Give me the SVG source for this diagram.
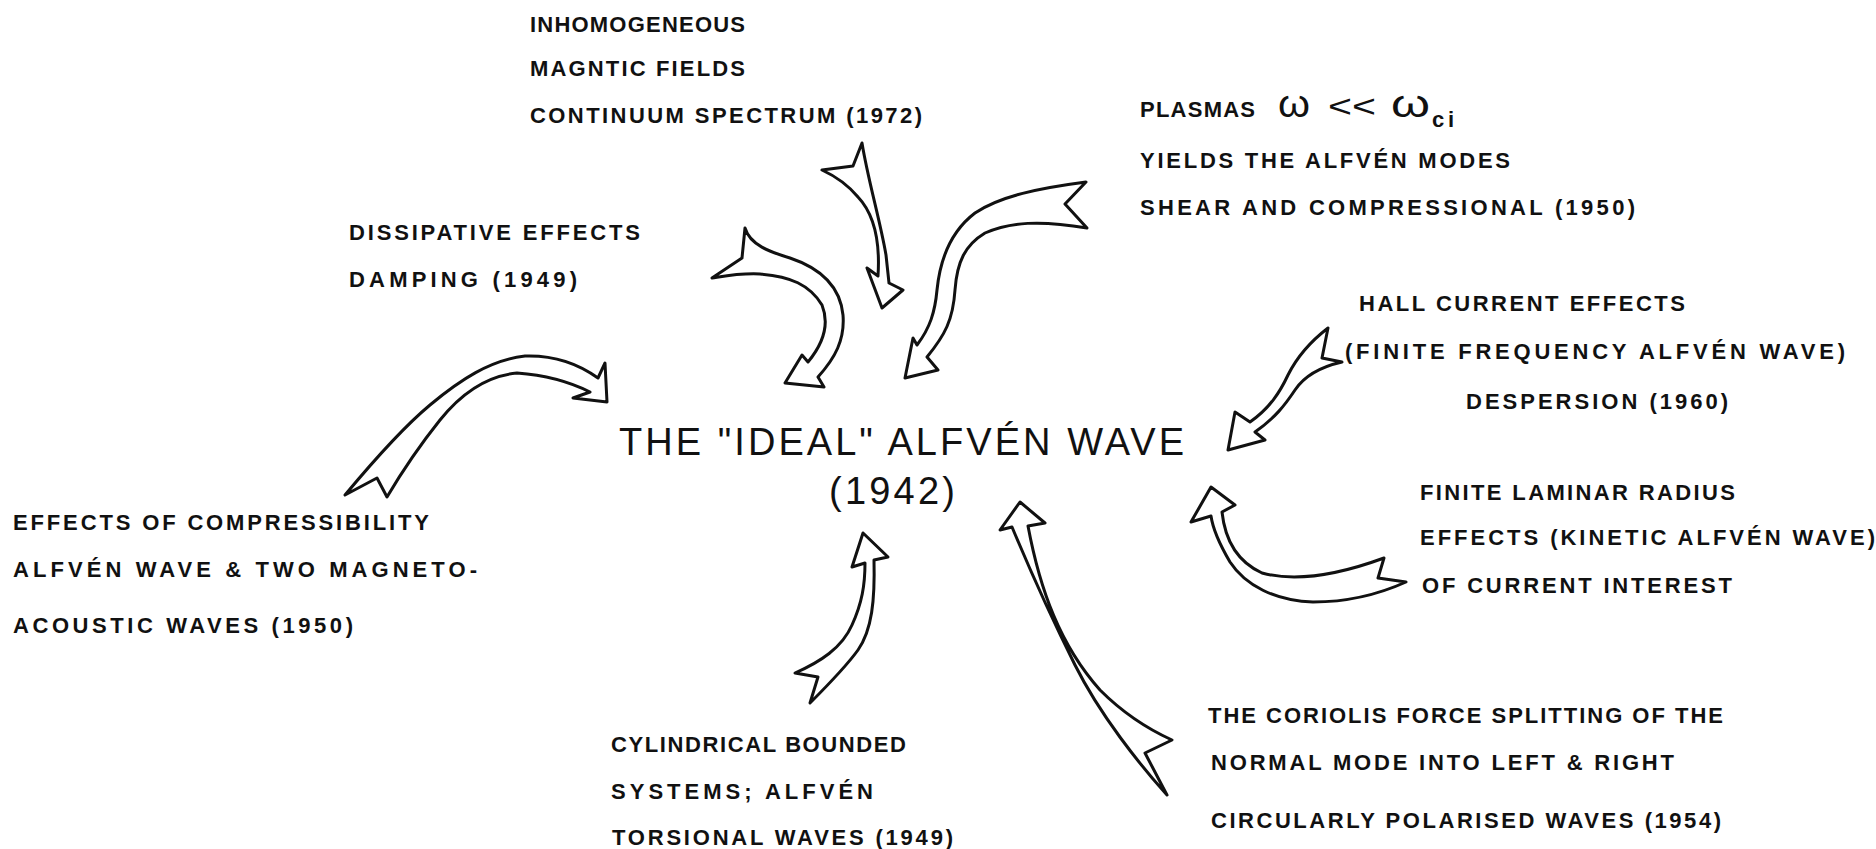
<svg xmlns="http://www.w3.org/2000/svg" width="1876" height="849" viewBox="0 0 1876 849">
<style>
.t{font-family:"Liberation Sans",Arial,sans-serif;font-weight:bold;font-size:22px;fill:#111}
.sym{font-family:"Liberation Sans",Arial,sans-serif;font-weight:normal;fill:#111}
.title{font-family:"Liberation Sans",Arial,sans-serif;font-weight:normal;font-size:38px;fill:#111}
.arr{fill:#fff;stroke:#111;stroke-width:3;stroke-linejoin:round;stroke-linecap:round}
</style>
<rect width="1876" height="849" fill="#fff"/>
<g id="connectors">
<path id="arrow-dissipative" class="arr" d="M745,228 C750,245 770,252 790,258 C820,268 840,285 843,315 C845,340 835,358 818,377 L824,387 L785,383 L802,355 L808,362 C822,345 830,325 822,305 C810,285 790,276 760,274 C740,273 725,276 712,278 L742,258 Z"/>
<path id="arrow-inhomogeneous" class="arr" d="M862,143 C868,180 880,220 886,255 L889,283 L903,290 L882,308 L867,268 L878,276 C880,245 875,215 858,197 C848,185 835,176 822,170 L853,166 Z"/>
<path id="arrow-plasmas" class="arr" d="M1086,182 C1040,188 1000,196 975,213 C950,232 940,260 937,290 C935,312 930,328 917,345 L913,338 L905,378 L938,370 L927,357 C945,335 953,320 955,290 C957,262 965,245 985,233 C1010,222 1040,220 1087,228 L1065,204 Z"/>
<path id="arrow-hall" class="arr" d="M1328,328 C1315,338 1298,355 1288,375 C1280,392 1270,408 1250,422 L1235,412 L1228,450 L1265,440 L1255,432 C1275,418 1285,405 1295,390 C1305,375 1320,367 1342,362 L1322,358 Z"/>
<path id="arrow-compress" class="arr" d="M345,495 C370,465 400,430 430,405 C460,380 490,360 525,356 C555,355 580,365 598,378 L605,363 L607,402 L573,398 L590,392 C570,382 545,375 517,373 C485,376 460,395 440,420 C420,445 400,475 387,497 L377,478 Z"/>
<path id="arrow-cylindrical" class="arr" d="M863,533 L888,557 L874,560 C875,600 872,630 858,650 C845,668 825,688 810,703 L818,677 L795,673 C820,662 842,648 852,625 C862,603 865,585 865,563 L852,567 Z"/>
<path id="arrow-laminar" class="arr" d="M1211,487 L1235,505 L1222,512 C1225,540 1238,562 1262,573 C1295,582 1335,576 1384,558 L1378,578 L1406,582 C1375,596 1345,602 1313,602 C1275,601 1245,585 1230,562 C1220,545 1213,530 1211,516 L1191,522 Z"/>
<path id="arrow-coriolis" class="arr" d="M1020,502 L1045,523 L1028,526 C1040,590 1060,645 1100,690 C1125,715 1150,730 1172,740 L1145,753 L1167,795 C1140,765 1100,715 1075,665 C1050,615 1030,570 1012,527 L1000,530 Z"/>
</g>
<g id="node-title">
<text class="title" x="619" y="455" textLength="565" lengthAdjust="spacing">THE "IDEAL" ALFVÉN WAVE</text>
<text class="title" x="829" y="504" textLength="126" lengthAdjust="spacing">(1942)</text>
</g>
<g id="node-inhomogeneous">
<text class="t" x="530" y="32" textLength="215" lengthAdjust="spacing">INHOMOGENEOUS</text>
<text class="t" x="530" y="76" textLength="215" lengthAdjust="spacing">MAGNTIC FIELDS</text>
<text class="t" x="530" y="123" textLength="392" lengthAdjust="spacing">CONTINUUM SPECTRUM (1972)</text>
</g>
<g id="node-dissipative">
<text class="t" x="349" y="240" textLength="291" lengthAdjust="spacing">DISSIPATIVE EFFECTS</text>
<text class="t" x="349" y="287" textLength="228" lengthAdjust="spacing">DAMPING (1949)</text>
</g>
<g id="node-plasmas">
<text class="t" x="1140" y="117" textLength="115" lengthAdjust="spacing">PLASMAS</text>
<text class="sym" x="1278" y="117" font-size="38" textLength="32" lengthAdjust="spacingAndGlyphs">ω</text>
<text class="sym" x="1328" y="117" font-size="32" textLength="48" lengthAdjust="spacingAndGlyphs">&lt;&lt;</text>
<text class="sym" x="1391" y="117" font-size="38" textLength="39" lengthAdjust="spacingAndGlyphs">ω</text>
<text class="t" x="1432" y="127" font-size="20" textLength="22" lengthAdjust="spacing">ci</text>
<text class="t" x="1140" y="168" textLength="370" lengthAdjust="spacing">YIELDS THE ALFVÉN MODES</text>
<text class="t" x="1140" y="215" textLength="495" lengthAdjust="spacing">SHEAR AND COMPRESSIONAL (1950)</text>
</g>
<g id="node-hall">
<text class="t" x="1359" y="311" textLength="326" lengthAdjust="spacing">HALL CURRENT EFFECTS</text>
<text class="t" x="1345" y="359" textLength="500" lengthAdjust="spacing">(FINITE FREQUENCY ALFVÉN WAVE)</text>
<text class="t" x="1466" y="409" textLength="262" lengthAdjust="spacing">DESPERSION (1960)</text>
</g>
<g id="node-laminar">
<text class="t" x="1420" y="500" textLength="315" lengthAdjust="spacing">FINITE LAMINAR RADIUS</text>
<text class="t" x="1420" y="545" textLength="455" lengthAdjust="spacing">EFFECTS (KINETIC ALFVÉN WAVE)</text>
<text class="t" x="1422" y="593" textLength="310" lengthAdjust="spacing">OF CURRENT INTEREST</text>
</g>
<g id="node-coriolis">
<text class="t" x="1208" y="723" textLength="515" lengthAdjust="spacing">THE CORIOLIS FORCE SPLITTING OF THE</text>
<text class="t" x="1211" y="770" textLength="463" lengthAdjust="spacing">NORMAL MODE INTO LEFT &amp; RIGHT</text>
<text class="t" x="1211" y="828" textLength="510" lengthAdjust="spacing">CIRCULARLY POLARISED WAVES (1954)</text>
</g>
<g id="node-cylindrical">
<text class="t" x="611" y="752" textLength="295" lengthAdjust="spacing">CYLINDRICAL BOUNDED</text>
<text class="t" x="611" y="799" textLength="262" lengthAdjust="spacing">SYSTEMS; ALFVÉN</text>
<text class="t" x="612" y="845" textLength="341" lengthAdjust="spacing">TORSIONAL WAVES (1949)</text>
</g>
<g id="node-compressibility">
<text class="t" x="13" y="530" textLength="416" lengthAdjust="spacing">EFFECTS OF COMPRESSIBILITY</text>
<text class="t" x="13" y="577" textLength="464" lengthAdjust="spacing">ALFVÉN WAVE &amp; TWO MAGNETO-</text>
<text class="t" x="13" y="633" textLength="340" lengthAdjust="spacing">ACOUSTIC WAVES (1950)</text>
</g>
</svg>
